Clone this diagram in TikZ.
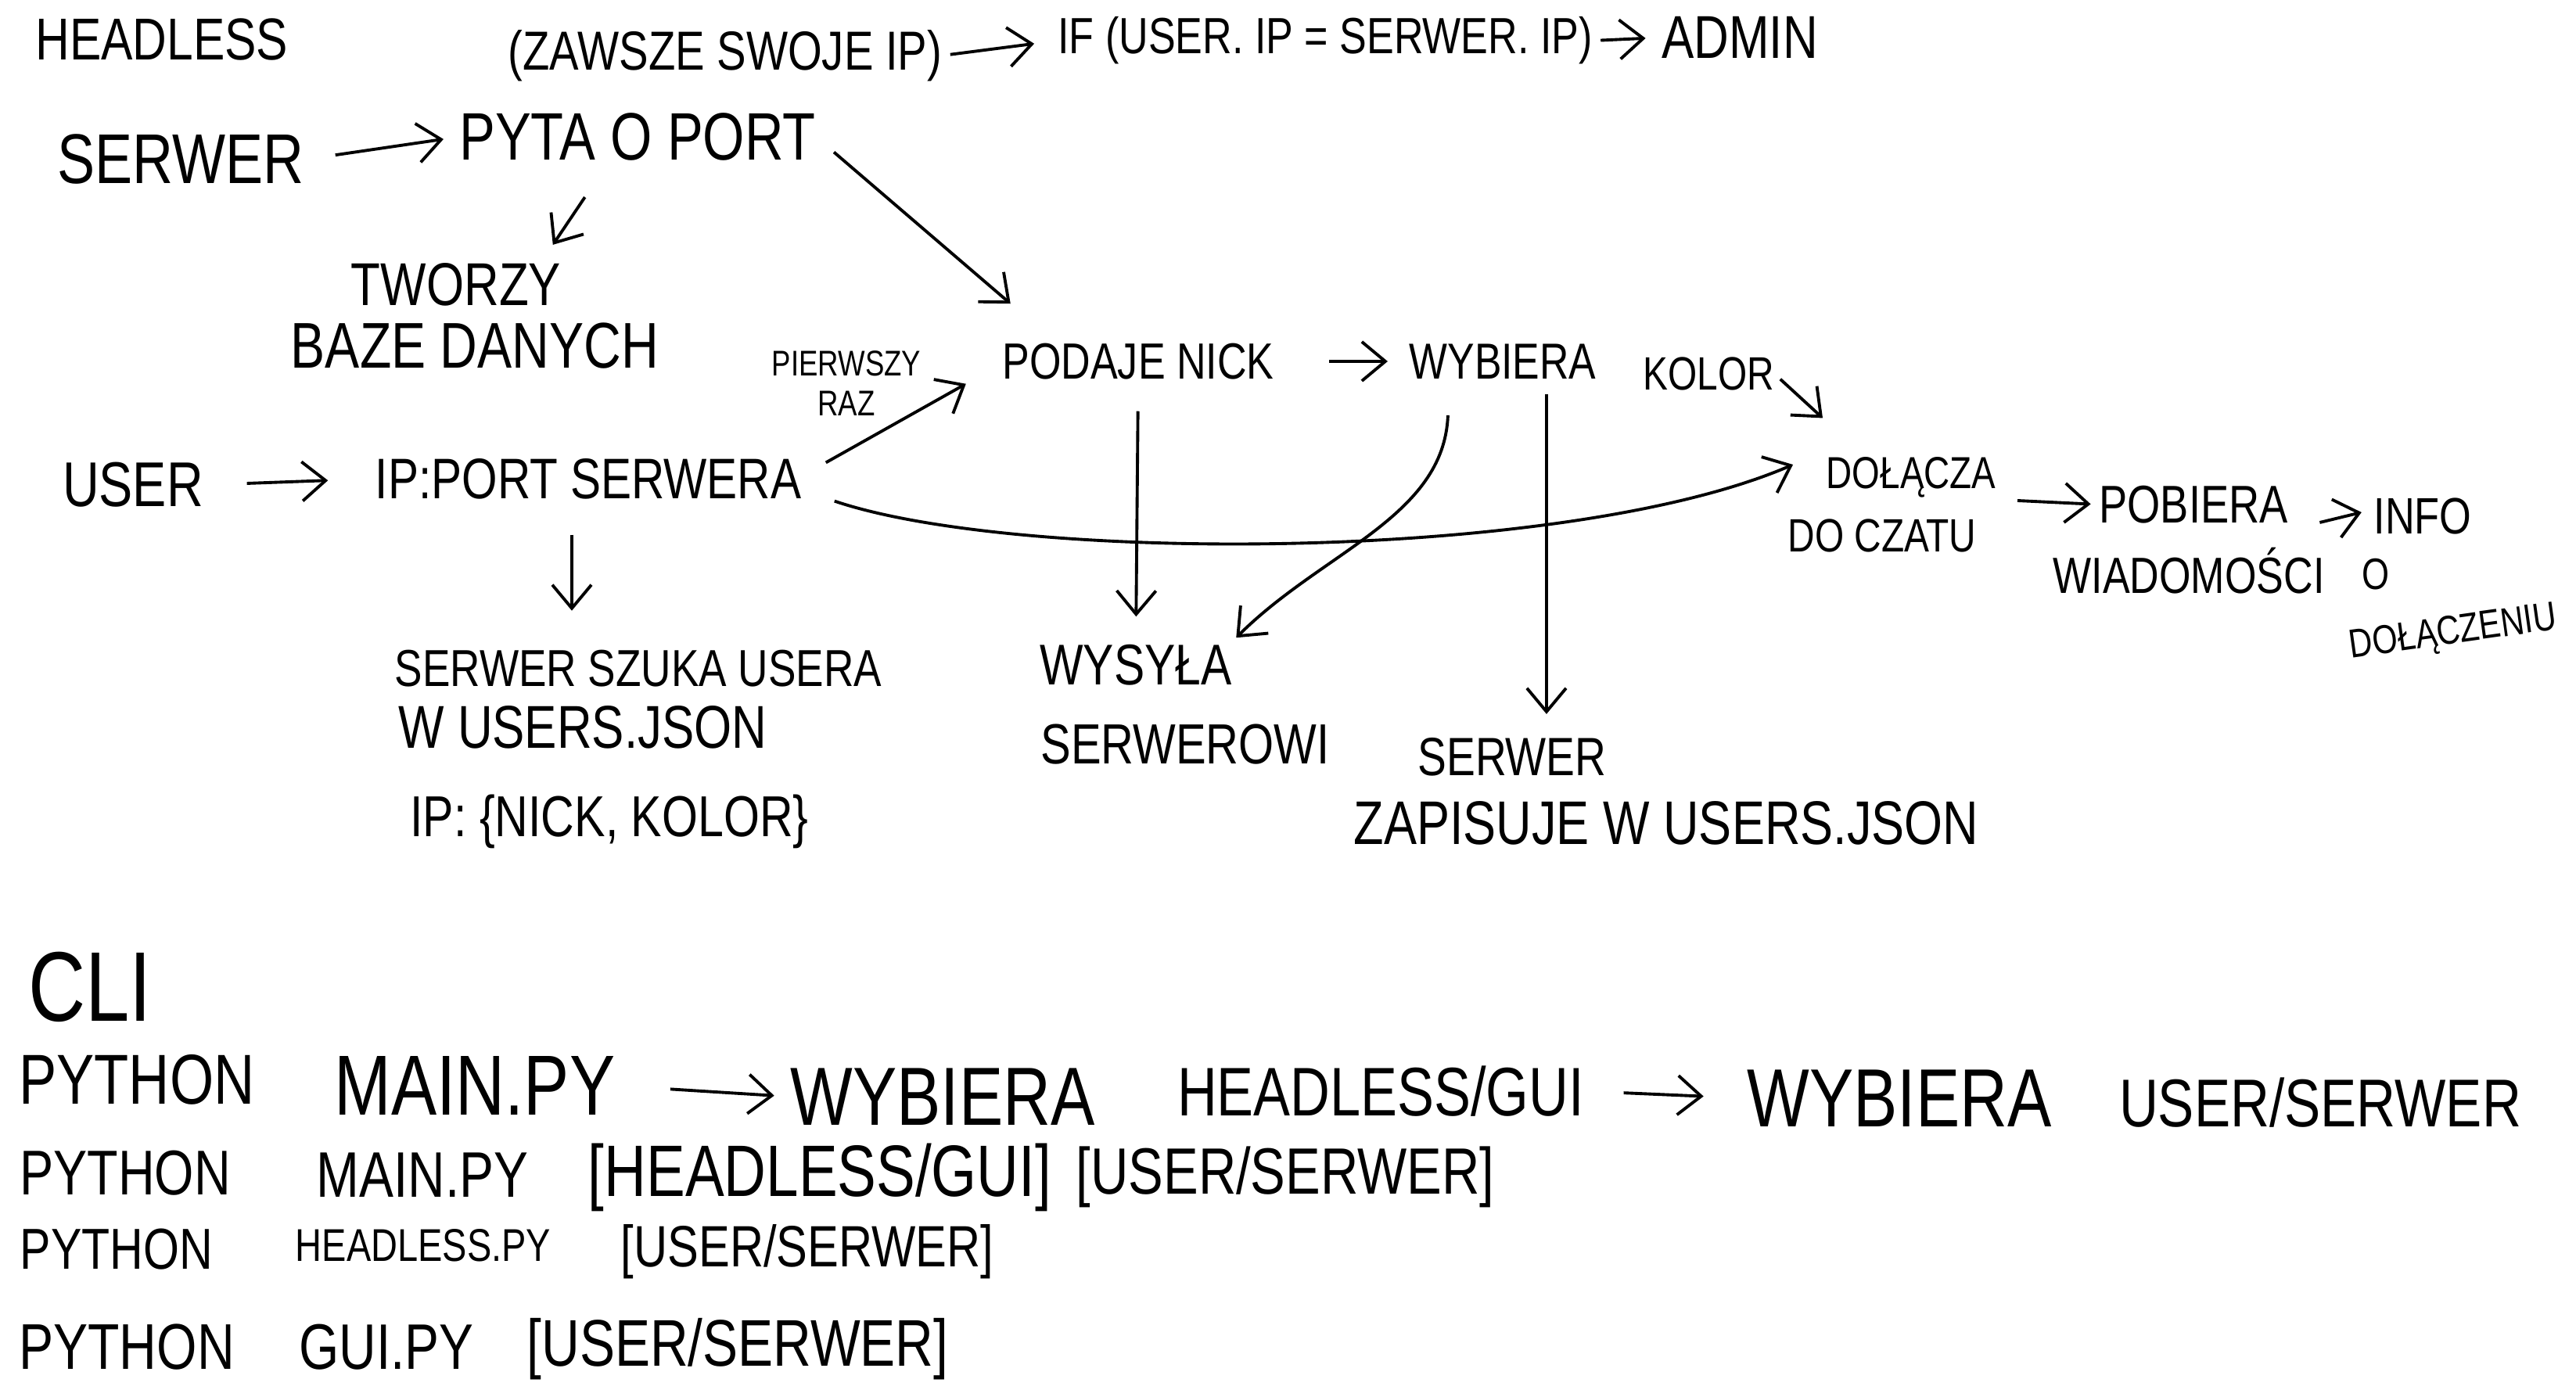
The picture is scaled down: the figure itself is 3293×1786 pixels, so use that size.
\documentclass[tikz,border=0pt]{standalone}
\usepackage{fontspec}
\newfontfamily\hand[FakeStretch=0.8]{Liberation Sans}
\usetikzlibrary{arrows.meta,calc}

\begin{document}
\begin{tikzpicture}[
  x=0.01cm, y=-0.01cm,
  hw/.style={font={\hand\fontsize{#1}{#1}\selectfont}, inner sep=0pt},
  arr/.style={-{Straight Barb[length=3mm,width=5mm]}, line width=1.1pt},
]
\useasboundingbox[fill=white] (0,0) rectangle (3293,1786);

% ===== HEADLESS: serwer =====
\node[hw=21.5] (headless) at (207,50) {HEADLESS};
\node[hw=20] (zawsze) at (927,71) {(ZAWSZE SWOJE IP)};
\node[hw=18.5] (ifadmin) at (1694,52) {IF (USER.~IP = SERWER.~IP)};
\node[hw=22] (admin) at (2224,48) {ADMIN};
\node[hw=25.6] (serwer) at (231,204) {SERWER};
\node[hw=24.4] (pyta) at (815,175) {PYTA O PORT};
\node[hw=22] (tworzy) at (583,364) {TWORZY};
\node[hw=23.5] (baza) at (607,442) {BAZE DANYCH};

\draw[arr, shorten <=1mm, shorten >=3mm] (zawsze.east) -- (ifadmin.west);
\draw[arr, shorten <=1mm, shorten >=2mm] (ifadmin.east) -- (admin.west);
\draw[arr, shorten <=4mm, shorten >=2mm] (serwer.east) -- (pyta.west);
\draw[arr] ($(pyta.south west)+(161,46)$) -- ($(tworzy.north east)+(-11,-23)$);

% ===== HEADLESS: user =====
\node[hw=23] (user) at (170,620) {USER};
\node[hw=20.8] (ipport) at (752,612) {IP:PORT SERWERA};
\node[font={\hand\fontsize{13}{14.5}\selectfont}, inner sep=0pt, align=center] (pierwszy) at (1082,490) {PIERWSZY\\RAZ};
\node[hw=18.5] (podaje) at (1455,462) {PODAJE NICK};
\node[hw=18.4] (wybiera) at (1921,462) {WYBIERA};
\node[hw=17] (kolor) at (2184,478) {KOLOR};
\node[hw=16.3] (dolacza) at (2443,610) {DOŁĄCZA};
\node[hw=17] (doczatu) at (2406,685) {DO CZATU};
\node[hw=19.3] (pobiera) at (2804,645) {POBIERA};
\node[hw=18.6] (info) at (3097,660) {INFO};
\node[hw=18.5] (wiadom) at (2798,730) {WIADOMOŚCI};
\node[hw=16] (onode) at (3037,734) {O};
\node[hw=14.7, rotate=8] (dolaczenie) at (3136,810) {DOŁĄCZENIU};

\node[hw=18.9] (szuka) at (816,855) {SERWER SZUKA USERA};
\node[hw=22] (wusers) at (745,930) {W USERS.JSON};
\node[hw=21] (ipnick) at (779,1050) {IP: \{NICK, KOLOR\}};
\node[hw=20.9] (wysyla) at (1452,850) {WYSYŁA};
\node[hw=20.6] (serwerowi) at (1515,952) {SERWEROWI};
\node[hw=19.6] (serwerzap) at (1933,968) {SERWER};
\node[hw=22.4] (zapisuje) at (2130,1052) {ZAPISUJE W USERS.JSON};

\coordinate (ipp-b) at ($(ipport.south)+(-21,45)$);
\coordinate (wyb-r) at ($(wybiera.south west)+(176,19)$);

\draw[arr, shorten <=5.5mm, shorten >=6mm] (user.east) -- (ipport.west);
\draw[arr, shorten >=5mm] (ipp-b) -- (ipp-b |- szuka.north);
\draw[arr] ($(ipport.north east)+(31,6)$) -- ($(podaje.south west)+(-46,5)$);
\draw[arr] ($(ipport.south east)+(42,2)$) .. controls (1300,720) and (2000,720) .. ($(dolacza.west)+(-42,-16)$);
\draw[arr, shorten <=3mm] (pyta.east) -- ($(podaje.north west)+(11,-50)$);
\draw[arr, shorten <=7mm, shorten >=2.7mm] (podaje.east) -- (wybiera.west);
\draw[arr, shorten <=4mm, shorten >=3.5mm] (podaje.south) -- (wysyla.north);
\draw[arr] ($(wybiera.south west)+(50,46)$) .. controls +(-5,130) and +(110,-110) .. ($(wysyla.north east)+(5,-8)$);
\draw[arr, shorten >=3mm] (wyb-r) -- (wyb-r |- serwerzap.north);
\draw[arr, shorten <=1mm] (kolor.east) -- ($(dolacza.north west)+(-4,-49)$);
\draw[arr, shorten >=1mm] ($(dolacza.east)+(27,30)$) -- (pobiera.west);
\draw[arr] ($(pobiera.east)+(40,23)$) -- ($(info.west)+(-15,-5)$);

% ===== CLI =====
\node[hw=36] (cli) at (115,1262) {CLI};

\node[hw=25.7] (py1) at (175,1380) {PYTHON};
\node[hw=31] (main1) at (607,1388) {MAIN.PY};
\node[hw=30] (wyb1) at (1205,1402) {WYBIERA};
\node[hw=25] (hg1) at (1765,1395) {HEADLESS/GUI};
\node[hw=30] (wyb2) at (2428,1404) {WYBIERA};
\node[hw=24.6] (us1) at (2966,1410) {USER/SERWER};
\draw[arr, shorten <=7mm, shorten >=2mm] (main1.east) -- (wyb1.west);
\draw[arr, shorten <=5mm, shorten >=5.5mm] (hg1.east) -- (wyb2.west);

\node[hw=23] (py2) at (160,1500) {PYTHON};
\node[hw=23.4] (main2) at (540,1502) {MAIN.PY};
\node[hw=26.5] (hg2) at (1048,1505) {[HEADLESS/GUI]};
\node[hw=23.8] (us2) at (1643,1505) {[USER/SERWER]};

\node[hw=21] (py3) at (149,1597) {PYTHON};
\node[hw=16.7] (hl3) at (541,1592) {HEADLESS.PY};
\node[hw=21.2] (us3) at (1032,1600) {[USER/SERWER]};

\node[hw=23.5] (py4) at (162,1722) {PYTHON};
\node[hw=23.4] (gui4) at (494,1722) {GUI.PY};
\node[hw=24] (us4) at (943,1725) {[USER/SERWER]};

\end{tikzpicture}
\end{document}
